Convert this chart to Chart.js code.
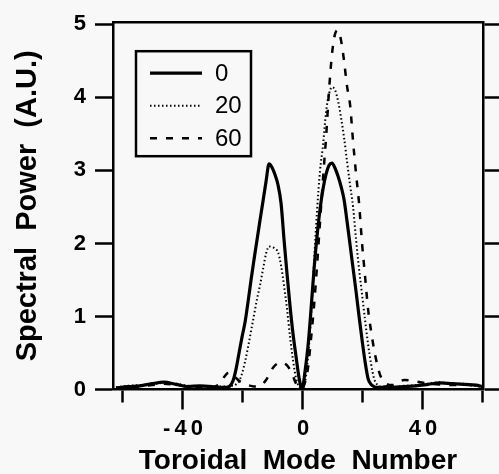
<!DOCTYPE html>
<html>
<head>
<meta charset="utf-8">
<script src="https://cdn.jsdelivr.net/npm/chart.js@4/dist/chart.umd.min.js"></script>
<style>
  html, body { margin: 0; padding: 0; background: #f8f8f8; overflow: hidden; }
  canvas { display: block; }
</style>
</head>
<body>
<canvas id="spectrum" width="499" height="474"></canvas>
<script>
// toroidal mode numbers (dense around the peaks)
const modes = [
    -62, -58, -54, -50, -46, -42, -38, -34, -30,
    -28, -27, -26, -25, -24, -23, -22, -21, -20, -19, -18, -17, -16, -15, -14, -13, -12, -11, -10,
    -9, -8, -7, -6, -5, -4, -3, -2, -1, 0, 1, 2, 3, 4, 5, 6, 7, 8, 9,
    10, 11, 12, 13, 14, 15, 16, 17, 18, 19, 20, 21, 22, 23, 24, 25, 26, 27, 28,
    30, 34, 38, 42, 46, 50, 54, 58, 60
];

const power0 = [
    0.02, 0.04, 0.05, 0.08, 0.10, 0.07, 0.04, 0.05, 0.04,
    0.03, 0.03, 0.03, 0.03, 0.05, 0.12, 0.28, 0.50, 0.72, 0.92, 1.20, 1.50, 1.78, 2.05, 2.32, 2.58, 2.85, 3.09, 3.04,
    2.94, 2.80, 2.55, 2.05, 1.58, 1.14, 0.76, 0.45, 0.16, 0.00, 0.25, 0.60, 1.10, 1.65, 2.10, 2.47, 2.75, 2.95, 3.07,
    3.10, 3.03, 2.92, 2.78, 2.60, 2.30, 1.98, 1.66, 1.34, 1.00, 0.68, 0.38, 0.15, 0.07, 0.04, 0.03, 0.03, 0.03, 0.04,
    0.03, 0.04, 0.05, 0.07, 0.09, 0.08, 0.07, 0.06, 0.04
];

const power20 = [
    0.03, 0.05, 0.06, 0.07, 0.09, 0.08, 0.05, 0.04, 0.04,
    0.04, 0.04, 0.04, 0.04, 0.05, 0.05, 0.07, 0.11, 0.22, 0.38, 0.58, 0.80, 1.02, 1.24, 1.43, 1.65, 1.86, 1.96, 1.95,
    1.93, 1.88, 1.70, 1.42, 1.10, 0.72, 0.40, 0.15, 0.04, 0.02, 0.10, 0.45, 1.00, 1.75, 2.45, 3.00, 3.35, 3.80, 4.05,
    4.14, 4.10, 3.95, 3.72, 3.45, 3.12, 2.80, 2.50, 2.05, 1.65, 1.30, 0.95, 0.62, 0.35, 0.15, 0.07, 0.04, 0.04, 0.04,
    0.03, 0.05, 0.06, 0.08, 0.10, 0.07, 0.08, 0.05, 0.03
];

const power60 = [
    0.02, 0.03, 0.04, 0.06, 0.08, 0.06, 0.04, 0.03, 0.03,
    0.06, 0.10, 0.17, 0.22, 0.23, 0.20, 0.16, 0.12, 0.10, 0.08, 0.06, 0.05, 0.04, 0.04, 0.05, 0.08, 0.13, 0.20, 0.28,
    0.33, 0.36, 0.37, 0.36, 0.33, 0.27, 0.18, 0.08, 0.03, 0.02, 0.10, 0.30, 0.70, 1.15, 1.70, 2.30, 2.90, 3.45, 4.10,
    4.60, 4.87, 4.92, 4.78, 4.50, 4.15, 3.90, 3.40, 2.95, 2.55, 2.00, 1.55, 1.10, 0.80, 0.55, 0.35, 0.20, 0.12, 0.08,
    0.06, 0.13, 0.11, 0.08, 0.07, 0.06, 0.07, 0.05, 0.03
];

const seriesLabels = ['0', '20', '60'];
const xTickValues = [-60, -40, -20, 0, 20, 40, 60];
const xTickLabels = ['', '-40', '', '0', '', '40', ''];
const yTickValues = [0, 1, 2, 3, 4, 5];

const FONT = '"Liberation Sans", Arial, Helvetica, sans-serif';
const INK = '#000';

const toPoints = (values) => modes.map((m, i) => ({x: m, y: values[i]}));

// boxed legend in the upper left of the plot
const legendBox = {
    id: 'legendBox',
    afterLayout(chart) {
        // the x tick labels are printed with wide letter spacing ("- 4 0")
        const sc = chart.scales.x;
        if (sc._spaced) return;
        const drawLabels = sc.drawLabels;
        sc.drawLabels = function (area) {
            const c = this.ctx;
            c.save();
            c.letterSpacing = '4px';
            c.translate(3, 0);
            drawLabels.call(this, area);
            c.restore();
        };
        sc._spaced = true;
    },
    afterDatasetsDraw(chart) {
        const {ctx, chartArea} = chart;
        const left = chartArea.left + 23;
        const top = chartArea.top + 29;
        ctx.save();
        ctx.fillStyle = '#f8f8f8';
        ctx.fillRect(left, top, 115, 105);
        ctx.lineWidth = 2.5;
        ctx.strokeStyle = INK;
        ctx.setLineDash([]);
        ctx.strokeRect(left, top, 115, 105);
        chart.data.datasets.forEach((ds, i) => {
            const y = top + 22 + i * 32.5;
            ctx.beginPath();
            ctx.setLineDash(ds.borderDash || []);
            ctx.lineWidth = ds.borderWidth;
            ctx.moveTo(left + 14, y);
            ctx.lineTo(left + 66, y);
            ctx.stroke();
            ctx.setLineDash([]);
            ctx.font = '24px ' + FONT;
            ctx.textBaseline = 'middle';
            ctx.fillStyle = INK;
            ctx.fillText(ds.label, left + 79, y + 1);
        });
        ctx.restore();
    }
};

const lineStyle = {
    borderColor: INK,
    pointRadius: 0,
    cubicInterpolationMode: 'monotone',
    fill: false
};

new Chart(document.getElementById('spectrum').getContext('2d'), {
    type: 'line',
    data: {
        datasets: [
            {...lineStyle, label: seriesLabels[0], data: toPoints(power0), borderWidth: 3.2},
            {...lineStyle, label: seriesLabels[1], data: toPoints(power20), borderWidth: 2, borderDash: [1.5, 2.5]},
            {...lineStyle, label: seriesLabels[2], data: toPoints(power60), borderWidth: 2.5, borderDash: [7, 9]}
        ]
    },
    options: {
        responsive: false,
        animation: false,
        layout: {padding: 0},
        plugins: {
            legend: {display: false},
            tooltip: {enabled: false}
        },
        scales: {
            x: {
                type: 'linear',
                position: 'bottom',
                min: -63,
                max: 60.3,
                afterBuildTicks: (scale) => { scale.ticks = xTickValues.map(v => ({value: v})); },
                afterFit: (scale) => { scale.height = 84.5; },
                ticks: {
                    autoSkip: false,
                    maxRotation: 0,
                    padding: 6,
                    color: INK,
                    font: {family: FONT, size: 22, weight: 'bold'},
                    callback: (value) => xTickLabels[xTickValues.indexOf(value)]
                },
                grid: {
                    drawOnChartArea: false,
                    tickLength: 20,
                    tickWidth: 2.5,
                    tickColor: INK,
                    tickBorderDash: (ctx) => (xTickLabels[ctx.index] ? [] : [12, 40])
                },
                border: {color: INK, width: 2.5},
                title: {
                    display: true,
                    text: 'Toroidal  Mode  Number',
                    color: INK,
                    padding: 0,
                    font: {family: FONT, size: 28, weight: 'bold', lineHeight: 0.9}
                }
            },
            xTop: {
                type: 'linear',
                position: 'top',
                min: -63,
                max: 60.3,
                afterFit: (scale) => { scale.height = 17; },
                ticks: {display: false},
                grid: {drawOnChartArea: false, drawTicks: false},
                border: {color: INK, width: 2.5}
            },
            y: {
                type: 'linear',
                position: 'left',
                min: 0,
                max: 5.03,
                afterBuildTicks: (scale) => { scale.ticks = yTickValues.map(v => ({value: v})); },
                afterFit: (scale) => { scale.width = 113; },
                ticks: {
                    padding: 9,
                    color: INK,
                    font: {family: FONT, size: 22, weight: 'bold'}
                },
                grid: {
                    drawOnChartArea: false,
                    tickLength: 18,
                    tickWidth: 2.5,
                    tickColor: INK
                },
                border: {color: INK, width: 2.5},
                title: {
                    display: true,
                    text: 'Spectral  Power  (A.U.)',
                    color: INK,
                    padding: {top: 11, bottom: 0},
                    font: {family: FONT, size: 29, weight: 'bold'}
                }
            },
            yRight: {
                type: 'linear',
                position: 'right',
                min: 0,
                max: 5.03,
                afterBuildTicks: (scale) => { scale.ticks = yTickValues.map(v => ({value: v})); },
                afterFit: (scale) => { scale.width = 16; },
                ticks: {display: false},
                grid: {
                    drawOnChartArea: false,
                    tickLength: 16,
                    tickWidth: 2.5,
                    tickColor: INK
                },
                border: {color: INK, width: 2.5}
            }
        }
    },
    plugins: [legendBox]
});
</script>
</body>
</html>
